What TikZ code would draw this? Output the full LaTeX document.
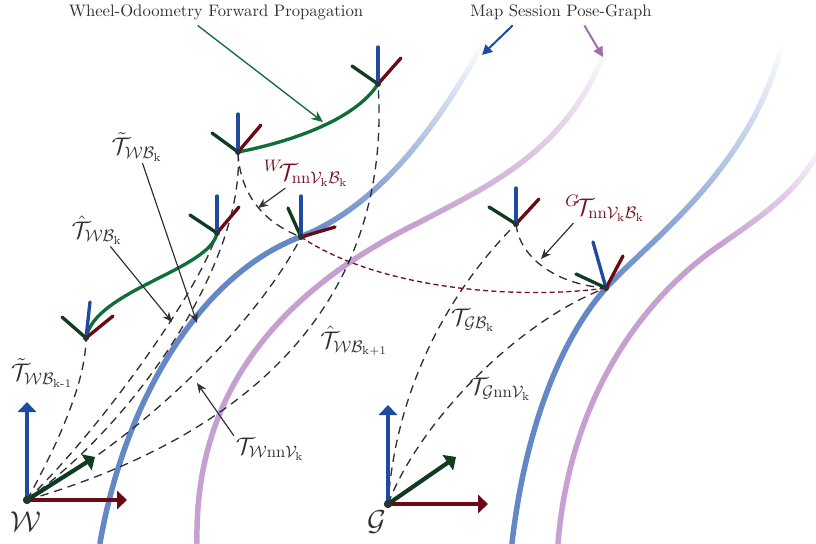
\documentclass[tikz,border=0pt]{standalone}
\usepackage{amsmath}
\usetikzlibrary{arrows.meta, fadings}
\definecolor{axisblue}{RGB}{30, 75, 160}
\definecolor{axisred}{RGB}{105, 10, 20}
\definecolor{axisgreen}{RGB}{15, 60, 30}
\definecolor{odomgreen}{RGB}{15, 110, 55}
\definecolor{graphblue}{RGB}{100, 135, 198}
\definecolor{graphpurple}{RGB}{198, 160, 208}
\definecolor{arrowpurple}{RGB}{160, 110, 175}
\definecolor{inkgray}{RGB}{45, 48, 52}
\definecolor{nnred}{RGB}{120, 15, 30}

\tikzfading[name=fadeup, top color=transparent!100,
    middle color=transparent!55, bottom color=transparent!0]

% origin, blue axis, green axis, red axis
\newcommand{\poseframe}[4]{%
    \draw[axis, axisgreen] (#1) -- ++(#3);
    \draw[axis, axisred] (#1) -- ++(#4);
    \draw[axis, axisblue] (#1) -- ++(#2);
    \fill[inkgray] (#1) circle (1.8pt);
}

\begin{document}
\begin{tikzpicture}[x=0.6pt, y=-0.6pt,
        axis/.style={line width=2pt, line cap=round},
        worldaxis/.style={line width=2.5pt, -{Triangle[length=6pt, width=11pt]}},
        posegraph/.style={line width=3.3pt, line cap=round},
        posegraphtop/.style={posegraph, path fading=fadeup},
        odometry/.style={line width=2pt, odomgreen},
        relation/.style={inkgray, line width=0.8pt, dash pattern=on 5pt off 3.5pt},
        nnlink/.style={nnred, line width=0.8pt, dash pattern=on 3pt off 2pt},
        mlabel/.style={font=\Large, text=inkgray, inner sep=1pt},
        pointer/.style={inkgray, line width=0.7pt, -{Stealth[length=6pt, width=5pt]}}]
    \useasboundingbox (0, 0) rectangle (816, 543);

    % map session pose-graphs (solid below, fading towards the top)
    \draw[posegraph, graphblue] (100, 543) .. controls (125, 400) and (200, 275) .. (300, 237);
    \draw[posegraphtop, graphblue] (300, 237) .. controls (370, 210) and (430, 140) .. (482, 45);
    \draw[posegraph, graphpurple] (197, 543) .. controls (195, 430) and (240, 310) .. (420, 222);
    \draw[posegraphtop, graphpurple] (420, 222) .. controls (490, 185) and (570, 150) .. (607, 45);
    \draw[posegraph, graphblue] (512, 543) .. controls (525, 430) and (560, 340) .. (606, 288);
    \draw[posegraphtop, graphblue] (606, 288) .. controls (650, 240) and (750, 170) .. (782, 45);
    \draw[posegraph, graphpurple] (558, 543) .. controls (570, 400) and (640, 300) .. (720, 245);
    \draw[posegraphtop, graphpurple] (720, 245) .. controls (770, 210) and (800, 190) .. (825, 140);

    % frame origins
    \coordinate (W) at (27, 500);
    \coordinate (G) at (388, 504);
    \coordinate (odonext) at (378, 84);
    \coordinate (odok) at (238, 152);
    \coordinate (predk) at (217, 233);
    \coordinate (nnv) at (301, 237);
    \coordinate (odoprev) at (86, 338);
    \coordinate (gbk) at (516, 224);
    \coordinate (gnnv) at (606, 288);

    % relations
    \draw[relation] (W) .. controls (60, 440) and (86, 380) .. (odoprev);
    \draw[relation] (W) .. controls (100, 430) and (200, 290) .. (predk);
    \draw[relation] (W) .. controls (150, 410) and (245, 250) .. (odok);
    \draw[relation] (W) .. controls (170, 420) and (270, 300) .. (nnv);
    \draw[relation] (W) .. controls (300, 420) and (390, 260) .. (odonext);
    \draw[relation] (odok) .. controls (240, 200) and (270, 225) .. (nnv);
    \draw[relation] (G) .. controls (395, 400) and (440, 300) .. (gbk);
    \draw[relation] (G) .. controls (420, 420) and (520, 320) .. (gnnv);
    \draw[relation] (gbk) .. controls (520, 260) and (560, 285) .. (gnnv);
    \draw[nnlink] (nnv) .. controls (380, 290) and (520, 300) .. (gnnv);

    % wheel odometry
    \draw[odometry] (odok) .. controls (290, 142) and (355, 120) .. (odonext);
    \draw[odometry] (odoprev) .. controls (95, 290) and (210, 270) .. (predk);

    % body frames
    \poseframe{odonext}{0,-37}{-26,-18}{23,-26}
    \poseframe{odok}{0,-38}{-26,-19}{23,-27}
    \poseframe{predk}{0,-37}{-27,-18}{22,-26}
    \poseframe{nnv}{0,-41}{-13,-29}{34,-10}
    \poseframe{odoprev}{4,-36}{-24,-21}{27,-22}
    \poseframe{gbk}{0,-36}{-27,-17}{23,-25}
    \poseframe{gnnv}{-13,-46}{-30,-14}{17,-32}

    % world and global frames
    \draw[worldaxis, axisblue] (W) -- ++(0, -98);
    \draw[worldaxis, axisred] (W) -- ++(100, 0);
    \draw[worldaxis, axisgreen] (W) -- ++(68, -43);
    \fill[inkgray] (W) circle (2.5pt);
    \draw[worldaxis, axisblue] (G) -- ++(0, -99);
    \draw[worldaxis, axisred] (G) -- ++(100, 0);
    \draw[worldaxis, axisgreen] (G) -- ++(68, -47);
    \fill[inkgray] (G) circle (2.5pt);
    \node[font=\LARGE, text=inkgray, inner sep=0pt] (wname) at (26, 522)
        {$\mathcal{W}$};
    \node[font=\LARGE, text=inkgray, inner sep=0pt] (gname) at (377, 522)
        {$\mathcal{G}$};

    % labels
    \node[text=inkgray] (wheel) at (216, 12)
        {Wheel-Odoometry Forward Propagation};
    \node[text=inkgray] (mapgraph) at (561, 12) {Map Session Pose-Graph};
    \node[mlabel] (lodo) at (137, 147)
        {$\tilde{\mathcal{T}}_{\mathcal{W}\mathcal{B}_\mathrm{k}}$};
    \node[mlabel] (lpred) at (97, 230)
        {$\hat{\mathcal{T}}_{\mathcal{W}\mathcal{B}_\mathrm{k}}$};
    \node[mlabel] (lodoprev) at (42, 373)
        {$\tilde{\mathcal{T}}_{\mathcal{W}\mathcal{B}_{\text{k-1}}}$};
    \node[mlabel, text=nnred] (lwnn) at (306, 173)
        {${}^{W}\!\mathcal{T}_{\mathrm{nn}\mathcal{V}_\mathrm{k}\mathcal{B}_\mathrm{k}}$};
    \node[mlabel] (lprednext) at (354, 341)
        {$\hat{\mathcal{T}}_{\mathcal{W}\mathcal{B}_{\text{k+1}}}$};
    \node[mlabel] (lwv) at (270, 449)
        {$\mathcal{T}_{\mathcal{W}\mathrm{nn}\mathcal{V}_\mathrm{k}}$};
    \node[mlabel, text=nnred] (lgnn) at (605, 208)
        {${}^{G}\!\mathcal{T}_{\mathrm{nn}\mathcal{V}_\mathrm{k}\mathcal{B}_\mathrm{k}}$};
    \node[mlabel] (lgb) at (473, 320)
        {$\mathcal{T}_{\mathcal{G}\mathcal{B}_\mathrm{k}}$};
    \node[mlabel] (lgv) at (500, 389)
        {$\mathcal{T}_{\mathcal{G}\mathrm{nn}\mathcal{V}_\mathrm{k}}$};

    % pointer targets
    \coordinate (odotip) at (323, 122);
    \coordinate (bluetip) at (482, 55);
    \coordinate (purpletip) at (603, 57);
    \coordinate (odoktip) at (197, 323);
    \coordinate (predktip) at (172, 322);
    \coordinate (wnntip) at (258, 208);
    \coordinate (wvtip) at (197, 383);
    \coordinate (gnntip) at (541, 259);

    \draw[odomgreen, line width=0.8pt, -{Stealth[length=7pt, width=6pt]}]
        ([xshift=-11pt]wheel.south) -- (odotip);
    \draw[axisblue, line width=1.2pt, -{Triangle[length=6pt, width=6pt]}]
        ([xshift=-29pt]mapgraph.south) -- (bluetip);
    \draw[arrowpurple, line width=1.2pt, -{Triangle[length=6pt, width=6pt]}]
        ([xshift=14pt]mapgraph.south) -- (purpletip);
    \draw[pointer] (lodo) -- (odoktip);
    \draw[pointer] (lpred) -- (predktip);
    \draw[pointer] (lwnn) -- (wnntip);
    \draw[pointer] (lwv.north west) -- (wvtip);
    \draw[pointer] ([xshift=6pt]lgnn.south west) -- (gnntip);
\end{tikzpicture}
\end{document}
